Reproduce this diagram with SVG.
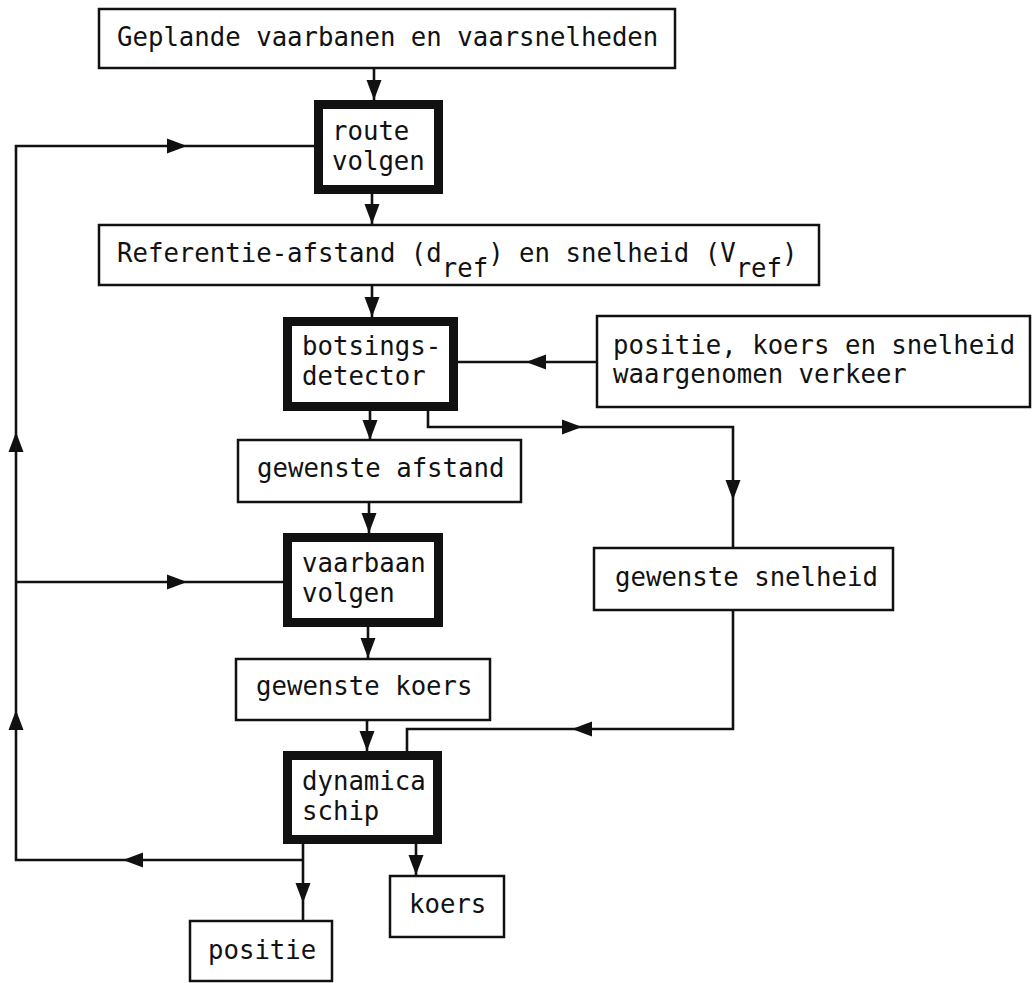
<svg xmlns="http://www.w3.org/2000/svg" width="1032" height="983" viewBox="0 0 1032 983">
<style>
  .thin{fill:#fff;stroke:#111;stroke-width:2.5}
  .thick{fill:#fff;stroke:#111;stroke-width:9}
  .t{font-family:"DejaVu Sans Mono","Liberation Mono",monospace;font-size:25.7px;fill:#111}
  .c{fill:none;stroke:#111;stroke-width:2.6}
  .ah{fill:#111}
</style>
<defs>
  <path id="ah" d="M0,0 L-20,-7.5 L-20,7.5 Z"/>
</defs>
<rect width="1032" height="983" fill="#fff"/>
<g id="connectors">
  <path class="c" d="M374,69 V100"/>
  <path class="c" d="M303,844 V920 M303,860 H16 V146 H314"/>
  <path class="c" d="M16,582 H283"/>
  <path class="c" d="M372,194 V224"/>
  <path class="c" d="M372,286 V317"/>
  <path class="c" d="M597,362 H458"/>
  <path class="c" d="M428,411 V427 H733 V548"/>
  <path class="c" d="M370,411 V440"/>
  <path class="c" d="M369,502 V533"/>
  <path class="c" d="M368,627 V659"/>
  <path class="c" d="M367,720 V751"/>
  <path class="c" d="M733,610 V729 H407 V751"/>
  <path class="c" d="M416,844 V876"/>
  <g class="ah">
    <use href="#ah" transform="translate(374,100) rotate(90)"/>
    <use href="#ah" transform="translate(187,146)"/>
    <use href="#ah" transform="translate(372,224) rotate(90)"/>
    <use href="#ah" transform="translate(372,317) rotate(90)"/>
    <use href="#ah" transform="translate(526,362) rotate(180)"/>
    <use href="#ah" transform="translate(582,427)"/>
    <use href="#ah" transform="translate(733,500) rotate(90)"/>
    <use href="#ah" transform="translate(370,440) rotate(90)"/>
    <use href="#ah" transform="translate(369,533) rotate(90)"/>
    <use href="#ah" transform="translate(187,582)"/>
    <use href="#ah" transform="translate(16,432) rotate(-90)"/>
    <use href="#ah" transform="translate(368,658) rotate(90)"/>
    <use href="#ah" transform="translate(16,710) rotate(-90)"/>
    <use href="#ah" transform="translate(367,751) rotate(90)"/>
    <use href="#ah" transform="translate(572,729) rotate(180)"/>
    <use href="#ah" transform="translate(123,860) rotate(180)"/>
    <use href="#ah" transform="translate(303,903) rotate(90)"/>
    <use href="#ah" transform="translate(416,875) rotate(90)"/>
  </g>
</g>
<g id="geplande">
  <rect class="thin" x="99" y="9" width="576" height="59"/>
  <text class="t" x="117" y="46">Geplande vaarbanen en vaarsnelheden</text>
</g>
<g id="route-volgen">
  <rect class="thick" x="318.5" y="104.5" width="120" height="85"/>
  <text class="t" x="332" y="140">route</text>
  <text class="t" x="332" y="170">volgen</text>
</g>
<g id="referentie">
  <rect class="thin" x="99" y="225" width="720" height="60"/>
  <text class="t" x="117" y="262">Referentie-afstand (d<tspan dy="15">ref</tspan><tspan dy="-15">) en snelheid (V</tspan><tspan dy="15">ref</tspan><tspan dy="-15">)</tspan></text>
</g>
<g id="botsingsdetector">
  <rect class="thick" x="287.5" y="321.5" width="166" height="85"/>
  <text class="t" x="302" y="355">botsings-</text>
  <text class="t" x="302" y="385">detector</text>
</g>
<g id="waargenomen">
  <rect class="thin" x="597" y="316" width="433" height="91"/>
  <text class="t" x="613" y="354">positie, koers en snelheid</text>
  <text class="t" x="613" y="383">waargenomen verkeer</text>
</g>
<g id="gewenste-afstand">
  <rect class="thin" x="238" y="440" width="283" height="62"/>
  <text class="t" x="257" y="477">gewenste afstand</text>
</g>
<g id="vaarbaan-volgen">
  <rect class="thick" x="287.5" y="537.5" width="151" height="85"/>
  <text class="t" x="302" y="572">vaarbaan</text>
  <text class="t" x="302" y="602">volgen</text>
</g>
<g id="gewenste-snelheid">
  <rect class="thin" x="594" y="548" width="299" height="62"/>
  <text class="t" x="615" y="586">gewenste snelheid</text>
</g>
<g id="gewenste-koers">
  <rect class="thin" x="236" y="659" width="254" height="61"/>
  <text class="t" x="256" y="695">gewenste koers</text>
</g>
<g id="dynamica-schip">
  <rect class="thick" x="287.5" y="755.5" width="150" height="84"/>
  <text class="t" x="302" y="790">dynamica</text>
  <text class="t" x="302" y="820">schip</text>
</g>
<g id="koers">
  <rect class="thin" x="390" y="876" width="114" height="61"/>
  <text class="t" x="409" y="913">koers</text>
</g>
<g id="positie">
  <rect class="thin" x="190" y="921" width="142" height="60"/>
  <text class="t" x="208" y="959">positie</text>
</g>
</svg>
